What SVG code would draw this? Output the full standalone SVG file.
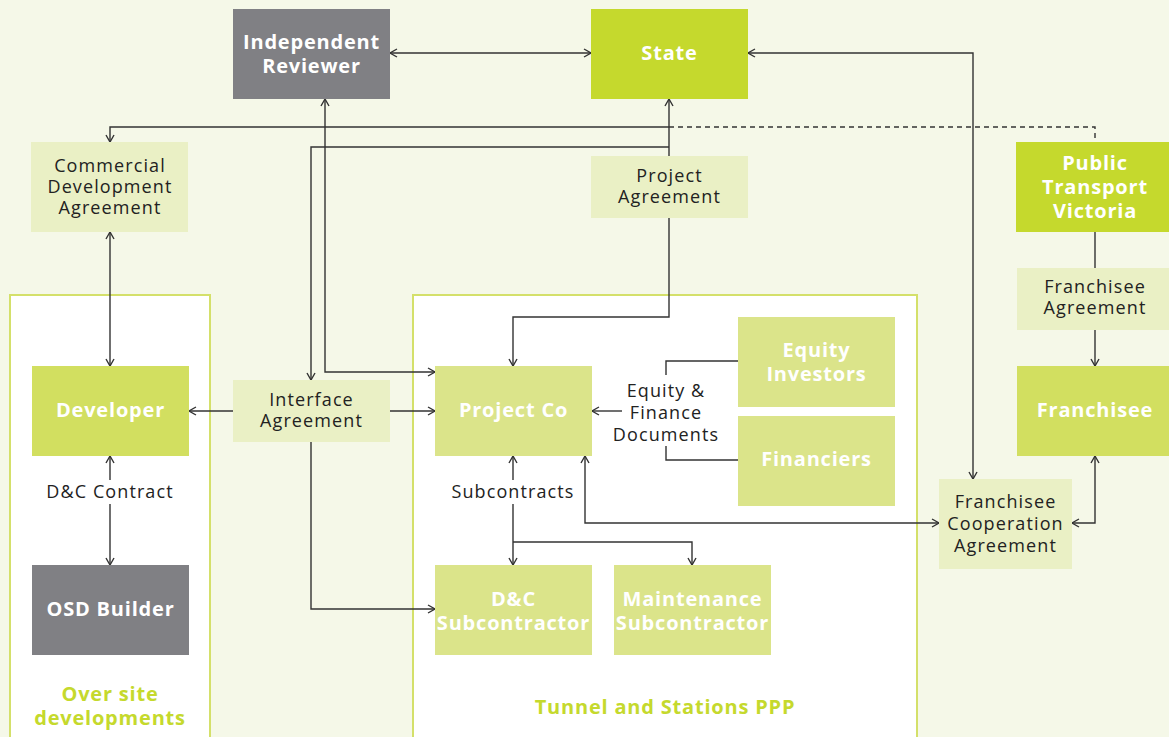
<svg xmlns="http://www.w3.org/2000/svg" width="1169" height="737" viewBox="0 0 1169 737">
<style>
.bg{fill:#f5f8e8}
.panel{fill:#ffffff;stroke:#d4e06a;stroke-width:2}
.gray{fill:#808084}
.lime{fill:#c5d92d}
.mid{fill:#d2df60}
.soft{fill:#dbe48a}
.agr{fill:#eaf0c5}
.w{fill:#ffffff;font-family:"Open Sans","Liberation Sans",sans-serif;font-weight:700;font-size:20px;letter-spacing:0.8px;text-anchor:middle}
.t{fill:#222222;font-family:"Open Sans","Liberation Sans",sans-serif;font-size:18px;letter-spacing:1.1px;text-anchor:middle}
.g{fill:#c5d92d;font-family:"Open Sans","Liberation Sans",sans-serif;font-weight:700;font-size:20px;letter-spacing:0.8px;text-anchor:middle}
.c{fill:none;stroke:#333333;stroke-width:1.4}
.d{fill:none;stroke:#333333;stroke-width:1.4;stroke-dasharray:5 4}
</style>
<defs>
<marker id="a" viewBox="0 0 10 10" refX="9" refY="5" markerWidth="10" markerHeight="10" markerUnits="userSpaceOnUse" orient="auto-start-reverse">
<path d="M2,1 L9,5 L2,9" fill="none" stroke="#333333" stroke-width="1.4"/>
</marker>
</defs>
<rect class="bg" x="0" y="0" width="1169" height="737"/>
<g id="panel-osd">
<rect class="panel" x="10" y="295" width="200" height="450"/>
<text class="g" x="110" y="701">Over site</text>
<text class="g" x="110" y="725">developments</text>
</g>
<g id="panel-ppp">
<rect class="panel" x="413" y="295" width="504" height="450"/>
<text class="g" x="665" y="714">Tunnel and Stations PPP</text>
</g>
<g id="connectors">
<path class="c" d="M390,53 H591" marker-start="url(#a)" marker-end="url(#a)"/>
<path class="c" d="M748,53 H973 V479" marker-start="url(#a)" marker-end="url(#a)"/>
<path class="c" d="M669,127 H110 V142" marker-end="url(#a)"/>
<path class="d" d="M669,127 H1095 V142"/>
<path class="c" d="M669,156 V99" marker-end="url(#a)"/>
<path class="c" d="M669,147 H311 V380" marker-end="url(#a)"/>
<path class="c" d="M669,218 V317 H513 V366" marker-end="url(#a)"/>
<path class="c" d="M325,99 V372 H435" marker-start="url(#a)" marker-end="url(#a)"/>
<path class="c" d="M233,411 H189" marker-end="url(#a)"/>
<path class="c" d="M390,411 H435" marker-end="url(#a)"/>
<path class="c" d="M311,442 V609 H435" marker-end="url(#a)"/>
<path class="c" d="M110,232 V366" marker-start="url(#a)" marker-end="url(#a)"/>
<path class="c" d="M110,480 V456" marker-end="url(#a)"/>
<path class="c" d="M110,504 V565" marker-end="url(#a)"/>
<path class="c" d="M738,361 H666 V375"/>
<path class="c" d="M738,460 H666 V446"/>
<path class="c" d="M622,411 H592" marker-end="url(#a)"/>
<path class="c" d="M513,480 V456" marker-end="url(#a)"/>
<path class="c" d="M513,504 V565" marker-end="url(#a)"/>
<path class="c" d="M513,542 H692 V565" marker-end="url(#a)"/>
<path class="c" d="M585,456 V523 H939" marker-start="url(#a)" marker-end="url(#a)"/>
<path class="c" d="M1095,232 V268"/>
<path class="c" d="M1095,330 V366" marker-end="url(#a)"/>
<path class="c" d="M1095,456 V523 H1072" marker-start="url(#a)" marker-end="url(#a)"/>
</g>
<g id="independent-reviewer">
<rect class="gray" x="233" y="9" width="157" height="90"/>
<text class="w" x="311.5" y="49">Independent</text>
<text class="w" x="311.5" y="73">Reviewer</text>
</g>
<g id="state">
<rect class="lime" x="591" y="9" width="157" height="90"/>
<text class="w" x="669.5" y="60">State</text>
</g>
<g id="commercial-development-agreement">
<rect class="agr" x="31" y="142" width="157" height="90"/>
<text class="t" x="110" y="172">Commercial</text>
<text class="t" x="110" y="193">Development</text>
<text class="t" x="110" y="214">Agreement</text>
</g>
<g id="project-agreement">
<rect class="agr" x="591" y="156" width="157" height="62"/>
<text class="t" x="669.5" y="182">Project</text>
<text class="t" x="669.5" y="203">Agreement</text>
</g>
<g id="public-transport-victoria">
<rect class="lime" x="1016" y="142" width="160" height="90"/>
<text class="w" x="1095" y="170">Public</text>
<text class="w" x="1095" y="194">Transport</text>
<text class="w" x="1095" y="218">Victoria</text>
</g>
<g id="franchisee-agreement">
<rect class="agr" x="1017" y="268" width="160" height="62"/>
<text class="t" x="1095" y="293">Franchisee</text>
<text class="t" x="1095" y="314">Agreement</text>
</g>
<g id="developer">
<rect class="mid" x="32" y="366" width="157" height="90"/>
<text class="w" x="110.5" y="417">Developer</text>
</g>
<g id="interface-agreement">
<rect class="agr" x="233" y="380" width="157" height="62"/>
<text class="t" x="311.5" y="406">Interface</text>
<text class="t" x="311.5" y="427">Agreement</text>
</g>
<g id="project-co">
<rect class="soft" x="435" y="366" width="157" height="90"/>
<text class="w" x="513.5" y="417">Project Co</text>
</g>
<g id="equity-finance-label">
<text class="t" x="666" y="397">Equity &amp;</text>
<text class="t" x="666" y="419">Finance</text>
<text class="t" x="666" y="441">Documents</text>
</g>
<g id="equity-investors">
<rect class="soft" x="738" y="317" width="157" height="90"/>
<text class="w" x="816.5" y="357">Equity</text>
<text class="w" x="816.5" y="381">Investors</text>
</g>
<g id="financiers">
<rect class="soft" x="738" y="416" width="157" height="90"/>
<text class="w" x="816.5" y="466">Financiers</text>
</g>
<g id="franchisee">
<rect class="mid" x="1017" y="366" width="160" height="90"/>
<text class="w" x="1095" y="417">Franchisee</text>
</g>
<g id="franchisee-cooperation-agreement">
<rect class="agr" x="939" y="479" width="133" height="90"/>
<text class="t" x="1005.5" y="508">Franchisee</text>
<text class="t" x="1005.5" y="530">Cooperation</text>
<text class="t" x="1005.5" y="552">Agreement</text>
</g>
<g id="dc-contract-label">
<text class="t" x="110" y="498">D&amp;C Contract</text>
</g>
<g id="subcontracts-label">
<text class="t" x="513" y="498">Subcontracts</text>
</g>
<g id="osd-builder">
<rect class="gray" x="32" y="565" width="157" height="90"/>
<text class="w" x="110.5" y="616">OSD Builder</text>
</g>
<g id="dc-subcontractor">
<rect class="soft" x="435" y="565" width="157" height="90"/>
<text class="w" x="513.5" y="606">D&amp;C</text>
<text class="w" x="513.5" y="630">Subcontractor</text>
</g>
<g id="maintenance-subcontractor">
<rect class="soft" x="614" y="565" width="157" height="90"/>
<text class="w" x="692.5" y="606">Maintenance</text>
<text class="w" x="692.5" y="630">Subcontractor</text>
</g>
</svg>
